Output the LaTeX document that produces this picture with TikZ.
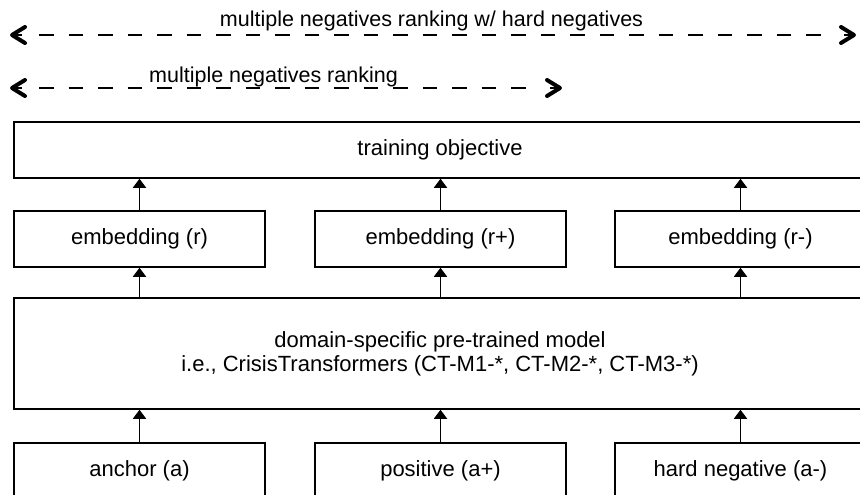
\documentclass[tikz,border=0pt]{standalone}
\usepackage{fontspec}
\setmainfont{Liberation Sans}
\usetikzlibrary{arrows.meta}
\begin{document}
\begin{tikzpicture}[x=1pt,y=-1pt,
  box/.style={draw=black,line width=1.5pt,fill=white,minimum width=251pt,minimum height=56pt,inner sep=0pt,font=\fontsize{22}{24}\selectfont,align=center},
  upar/.style={line width=1.5pt,-{Triangle[length=9pt,width=13pt]}},
  dashline/.style={line width=2pt,dash pattern=on 14.5pt off 15pt},
  barbtip/.style={line width=2pt,-{Straight Barb[length=13pt,width=16pt,line width=4pt 0,round]}},
  lbl/.style={font=\fontsize{21.5}{24}\selectfont,anchor=base,inner sep=0pt}]
\useasboundingbox (0,0) rectangle (860,495);
\clip (0,0) rectangle (860,495);
\fill[white] (0,0) rectangle (860,495);
% ranking arrows
\coordinate (h1) at (10,35);
\coordinate (h2) at (856,35);
\coordinate (m1) at (10,88);
\coordinate (m2) at (562,88);
\draw[dashline] ([xshift=29pt]h1) -- ([xshift=-35.5pt]h2);
\draw[dashline] ([xshift=29pt]m1) -- ([xshift=-36.5pt]m2);
\draw[barbtip] ([xshift=12pt]h1) -- (h1);
\draw[barbtip] ([xshift=-12pt]h2) -- (h2);
\draw[barbtip] ([xshift=12pt]m1) -- (m1);
\draw[barbtip] ([xshift=-12pt]m2) -- (m2);
\node[lbl] (hlab) at (431.5,27) {multiple negatives ranking w/ hard negatives};
\node[lbl] (mlab) at (273.5,82) {multiple negatives ranking};
% boxes
\node[box,minimum width=852pt] (obj) at (440,150) {training objective};
\node[box] (er) at (139.5,239) {embedding (r)};
\node[box] (erp) at (440.5,239) {embedding (r+)};
\node[box] (erm) at (740.5,239) {embedding (r-)};
\node[box,minimum width=852pt,minimum height=111pt] (model) at (440,353.5) {domain-specific pre-trained model\\i.e., CrisisTransformers (CT-M1-*, CT-M2-*, CT-M3-*)};
\node[box] (a) at (139.5,471) {anchor (a)};
\node[box] (ap) at (440.5,471) {positive (a+)};
\node[box] (am) at (740.5,471) {hard negative (a-)};
% connectors
\draw[upar] (a.north) -- (a.north |- model.south);
\draw[upar] (ap.north) -- (ap.north |- model.south);
\draw[upar] (am.north) -- (am.north |- model.south);
\draw[upar] (model.north -| er.south) -- (er.south);
\draw[upar] (model.north -| erp.south) -- (erp.south);
\draw[upar] (model.north -| erm.south) -- (erm.south);
\draw[upar] (er.north) -- (er.north |- obj.south);
\draw[upar] (erp.north) -- (erp.north |- obj.south);
\draw[upar] (erm.north) -- (erm.north |- obj.south);
\end{tikzpicture}
\end{document}
